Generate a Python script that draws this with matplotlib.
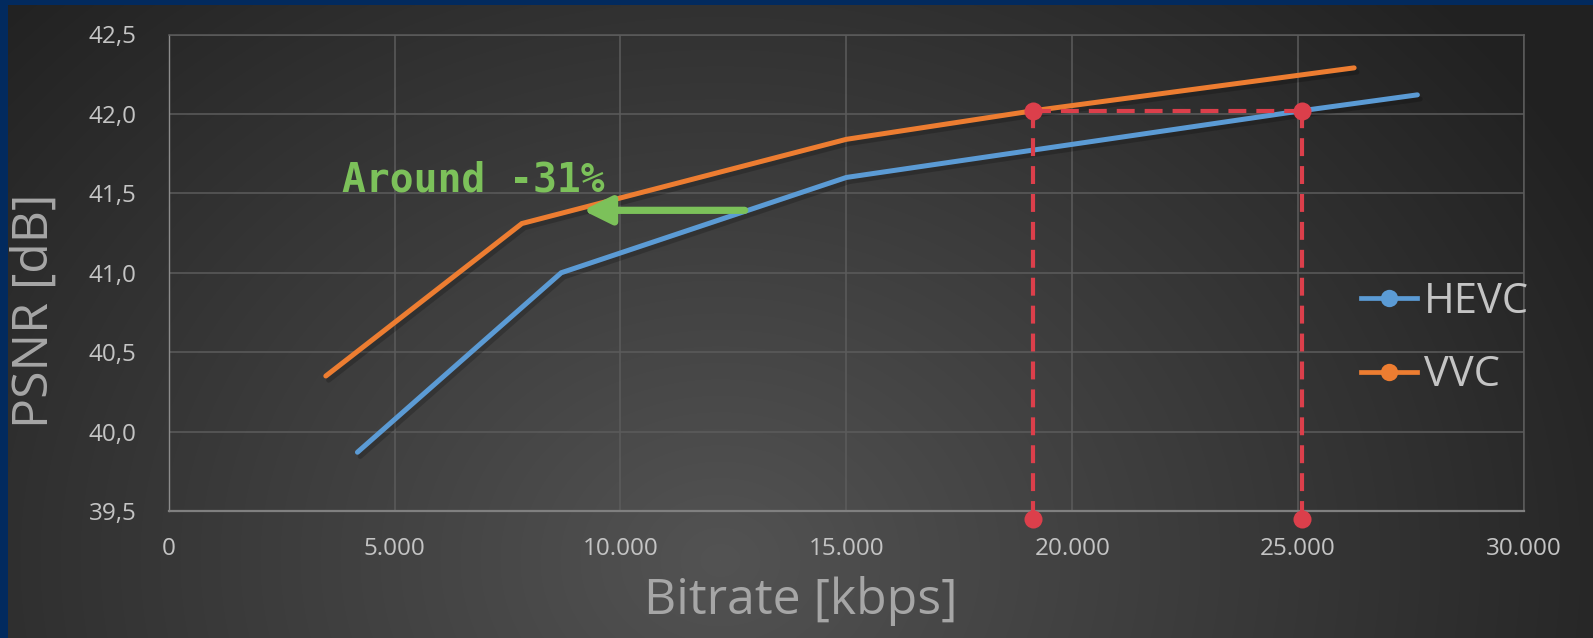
import numpy as np
import matplotlib
matplotlib.use("Agg")
import matplotlib.pyplot as plt
import matplotlib.patheffects as pe
from matplotlib.lines import Line2D

# Rate-distortion points (bitrate in kbps, PSNR in dB)
hevc_kbps = [4180, 8690, 15000, 25080, 27640]
hevc_psnr = [39.87, 41.00, 41.60, 42.02, 42.12]
vvc_kbps = [3480, 7820, 15000, 19140, 26240]
vvc_psnr = [40.35, 41.31, 41.84, 42.02, 42.29]

# Equal-quality comparison: same PSNR reached at two bitrates
ref_kbps = [19140, 25080]
ref_psnr = 42.02
ref_floor = 39.45

# Saving arrow (from HEVC to VVC at the same quality)
arrow_from = (12750, 41.393)
arrow_to = (9170, 41.393)
saving_text = "Around -31%"
saving_pos = (3840, 41.513)

x_ticks = [0, 5000, 10000, 15000, 20000, 25000, 30000]
x_labels = ["0", "5.000", "10.000", "15.000", "20.000", "25.000", "30.000"]
y_ticks = [39.5, 40.0, 40.5, 41.0, 41.5, 42.0, 42.5]
y_labels = ["39,5", "40,0", "40,5", "41,0", "41,5", "42,0", "42,5"]

W, H, DPI = 1593, 638, 100
fig = plt.figure(figsize=(W / DPI, H / DPI), dpi=DPI)

# dark radial background with navy frame on top/left
yy, xx = np.mgrid[0:H, 0:W]
r = np.sqrt(((xx - 720) / 850.0) ** 2 + ((yy - 560) / 700.0) ** 2)
v = 33 + 50 * np.clip(1 - r * 0.85, 0, 1)
img = np.dstack([v, v, v]) / 255.0
img[:5, :, :] = np.array([2, 42, 94]) / 255.0
img[:, :8, :] = np.array([2, 42, 94]) / 255.0
bg = fig.add_axes([0, 0, 1, 1], zorder=-1)
bg.imshow(img, aspect="auto", interpolation="bilinear")
bg.axis("off")

ax = fig.add_axes([168.6 / W, 1 - 511 / H, (1524 - 168.6) / W, (511 - 34.5) / H])
ax.set_facecolor("none")
ax.set_xlim(0, 30000)
ax.set_ylim(39.5, 42.5)

grid_col = "#5c5c5c"
ax.set_xticks(x_ticks)
ax.set_xticklabels(x_labels)
ax.set_yticks(y_ticks)
ax.set_yticklabels(y_labels)
ax.grid(True, color=grid_col, lw=1.1)
ax.set_axisbelow(True)
ax.tick_params(length=0, labelsize=17.5, labelcolor="#c4c4c4")
ax.tick_params(axis="x", pad=19)
ax.tick_params(axis="y", pad=23)
for lab in ax.get_xticklabels() + ax.get_yticklabels():
    lab.set_family("Open Sans")
for s in ["top", "right"]:
    ax.spines[s].set_color(grid_col)
    ax.spines[s].set_linewidth(1.1)
ax.spines["left"].set_color("#8c8c8c")
ax.spines["left"].set_linewidth(1.0)
ax.spines["bottom"].set_color("#808080")
ax.spines["bottom"].set_linewidth(1.6)

shadow = [pe.SimpleLineShadow(offset=(2, -3), shadow_color="black", alpha=0.2), pe.Normal()]
blue = "#5B9BD5"
orange = "#ED7D31"
ax.plot(hevc_kbps, hevc_psnr, color=blue, lw=3.6, solid_capstyle="round",
        solid_joinstyle="miter", path_effects=shadow, zorder=3)
ax.plot(vvc_kbps, vvc_psnr, color=orange, lw=3.6, solid_capstyle="round",
        solid_joinstyle="miter", path_effects=shadow, zorder=3)

# red dashed guides for the equal-PSNR points
red = "#DC3F4B"
dash = (0, (4.3, 2.4))
ax.plot(ref_kbps, [ref_psnr, ref_psnr], color=red, lw=3, linestyle=dash, zorder=4)
for xk in ref_kbps:
    ax.plot([xk, xk], [ref_floor, ref_psnr], color=red, lw=3, linestyle=dash,
            clip_on=False, zorder=4)
    ax.plot([xk, xk], [ref_floor, ref_psnr], "o", color=red, ms=13, mew=0,
            clip_on=False, zorder=5)

green = "#7CC15A"
ax.annotate("", xy=arrow_to, xytext=arrow_from,
            arrowprops=dict(arrowstyle="-|>,head_length=0.85,head_width=0.42",
                            mutation_scale=20, lw=5.2, color=green,
                            shrinkA=0, shrinkB=0), zorder=6)
ax.text(*saving_pos, saving_text, color=green, fontsize=28.5, fontweight="bold",
        family="DejaVu Sans Mono", ha="left", va="baseline", zorder=6)

fig.text(34.5 / W, 1 - 311 / H, "PSNR [dB]", rotation=90, ha="center", va="center",
         fontsize=36, color="#a6a6a6", family="Open Sans")
fig.text(801 / W, 1 - 614 / H, "Bitrate [kbps]", ha="center", va="baseline",
         fontsize=36, color="#a6a6a6", family="Open Sans")

handles = [Line2D([], [], color=blue, lw=3.4, marker="o", ms=12.5, mew=0),
           Line2D([], [], color=orange, lw=3.4, marker="o", ms=12.5, mew=0)]
fig.legend(handles, ["HEVC", "VVC"], loc="center left",
           bbox_to_anchor=(1361 / W, 1 - 338.5 / H), frameon=False,
           borderpad=0, borderaxespad=0, handlelength=1.35, handletextpad=0.15,
           labelspacing=0.75, prop={"family": "Open Sans", "size": 30},
           labelcolor="#c4c4c4")

fig.savefig("out.png", dpi=DPI)
